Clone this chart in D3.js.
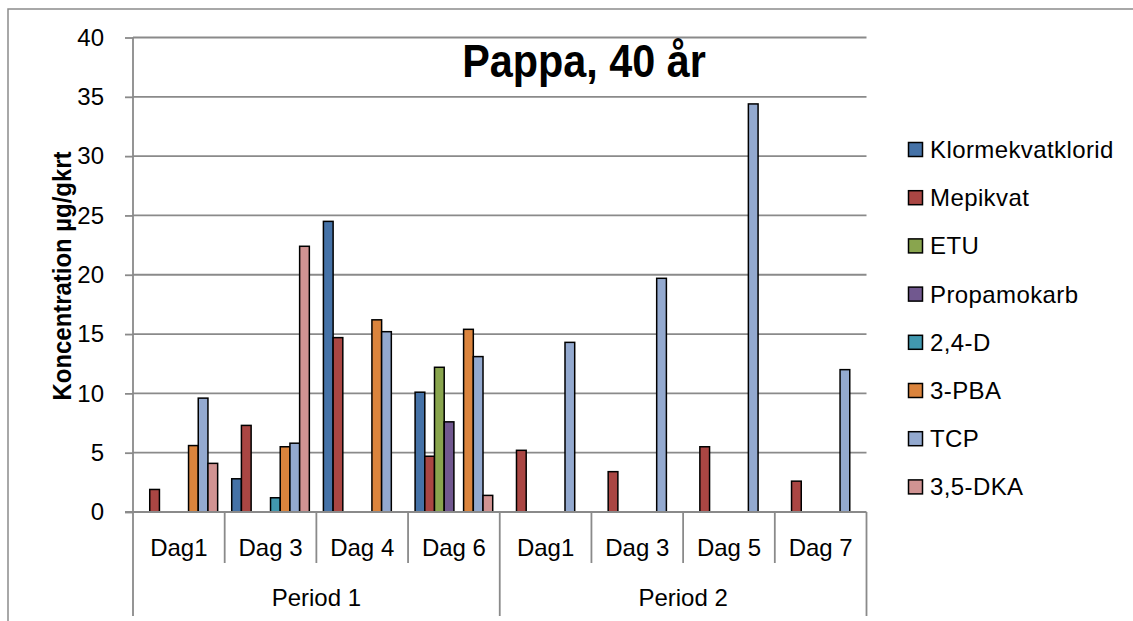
<!DOCTYPE html>
<html>
<head>
<meta charset="utf-8">
<script src="https://cdn.jsdelivr.net/npm/d3@7"></script>
<style>
  html, body { margin: 0; padding: 0; background: #fff; }
  svg { display: block; }
  text { font-family: "Liberation Sans", Arial, sans-serif; fill: #000; }
</style>
</head>
<body>
<svg id="chart" width="1133" height="621"></svg>
<script>
// Sampling days grouped by period
const periods = ["Period 1", "Period 2"];
const days = [
  ["Dag1", "Dag 3", "Dag 4", "Dag 6"],
  ["Dag1", "Dag 3", "Dag 5", "Dag 7"]
];

// Substances (legend order)
const seriesNames = ["Klormekvatklorid", "Mepikvat", "ETU", "Propamokarb", "2,4-D", "3-PBA", "TCP", "3,5-DKA"];
const seriesColors = ["#4572A7", "#AA4643", "#89A54E", "#71588F", "#4198AF", "#DB843D", "#93A9CF", "#D19392"];

// Concentrations, µg/g kreatinin; null = not detected
const klormekvatklorid = [null, 2.8, 24.5, 10.1, null, null, null, null];
const mepikvat         = [1.9, 7.3, 14.7, 4.7, 5.2, 3.4, 5.5, 2.6];
const etu              = [null, null, null, 12.2, null, null, null, null];
const propamokarb      = [null, null, null, 7.6, null, null, null, null];
const d24              = [null, 1.2, null, null, null, null, null, null];
const pba3             = [5.6, 5.5, 16.2, 15.4, null, null, null, null];
const tcp              = [9.6, 5.8, 15.2, 13.1, 14.3, 19.7, 34.4, 12.0];
const dka35            = [4.1, 22.4, null, 1.4, null, null, null, null];

const yTicks = [0, 5, 10, 15, 20, 25, 30, 35, 40];

const seriesValues = [klormekvatklorid, mepikvat, etu, propamokarb, d24, pba3, tcp, dka35];

// Flat list of categories with unique keys
const cats = [];
days.forEach((list, p) => list.forEach((d, i) => cats.push({ key: p + "-" + i, label: d, period: p })));

const svg = d3.select("#chart");
const plotLeft = 133, plotRight = 866.5, plotTop = 37.5, plotBottom = 512;
const gridColor = "#8a8a8a";

const x0 = d3.scaleBand().domain(cats.map(c => c.key)).range([plotLeft, plotRight]).padding(0);
const x1 = d3.scaleBand().domain(seriesNames).range([0, x0.bandwidth()]).paddingInner(0).paddingOuter(0.725);
const y = d3.scaleLinear().domain([0, 40]).range([plotBottom, plotTop]);

// Chart frame (left and top edges)
svg.append("path")
  .attr("d", "M8,621 L8,9 L1133,9")
  .attr("fill", "none").attr("stroke", "#8c8c8c").attr("stroke-width", 1.5);

// Horizontal gridlines
svg.append("g").selectAll("line").data(yTicks.filter(t => t > 0)).join("line")
  .attr("x1", plotLeft).attr("x2", plotRight)
  .attr("y1", d => y(d)).attr("y2", d => y(d))
  .attr("stroke", gridColor).attr("stroke-width", 1.8);

// Y axis
const yAxis = d3.axisLeft(y).tickValues(yTicks).tickSize(8).tickPadding(21).tickFormat(d3.format("d"));
const gy = svg.append("g").attr("transform", `translate(${plotLeft},0)`).call(yAxis);
gy.select(".domain").remove();
gy.selectAll(".tick line").attr("stroke", gridColor).attr("stroke-width", 1.8);
gy.selectAll(".tick text").attr("font-size", 24).attr("font-family", "Liberation Sans, Arial, sans-serif").attr("fill", "#000");

// Vertical axis line, extending through the category area
svg.append("line").attr("x1", plotLeft).attr("x2", plotLeft).attr("y1", plotTop).attr("y2", 616)
  .attr("stroke", gridColor).attr("stroke-width", 1.8);

// Bars
const groups = svg.append("g").selectAll("g").data(cats).join("g")
  .attr("transform", c => `translate(${x0(c.key)},0)`);
groups.selectAll("rect")
  .data((c, ci) => seriesNames.map((s, si) => ({ s, si, v: seriesValues[si][ci] })).filter(d => d.v != null))
  .join("rect")
  .attr("x", d => x1(d.s))
  .attr("width", x1.bandwidth())
  .attr("y", d => y(d.v))
  .attr("height", d => y(0) - y(d.v))
  .attr("fill", d => seriesColors[d.si])
  .attr("stroke", "#000").attr("stroke-width", 1.5);

// Category axis line
svg.append("line").attr("x1", plotLeft - 8).attr("x2", plotRight).attr("y1", plotBottom).attr("y2", plotBottom)
  .attr("stroke", gridColor).attr("stroke-width", 1.8);

// Day separators
const dayEdges = cats.map(c => x0(c.key)).concat([plotRight]);
const periodEdges = [0, 4, 8].map(i => dayEdges[i]);
svg.append("g").selectAll("line").data(dayEdges.filter((e, i) => i % 4 !== 0)).join("line")
  .attr("x1", d => d).attr("x2", d => d).attr("y1", plotBottom).attr("y2", 563)
  .attr("stroke", gridColor).attr("stroke-width", 1.8);
// Period separators
svg.append("g").selectAll("line").data(periodEdges.slice(1)).join("line")
  .attr("x1", d => d).attr("x2", d => d).attr("y1", plotBottom).attr("y2", 616)
  .attr("stroke", gridColor).attr("stroke-width", 1.8);

// Day labels
svg.append("g").selectAll("text").data(cats).join("text")
  .attr("x", c => x0(c.key) + x0.bandwidth() / 2).attr("y", 556)
  .attr("text-anchor", "middle").attr("font-size", 24)
  .text(c => c.label);

// Period labels
svg.append("g").selectAll("text").data(periods).join("text")
  .attr("x", (p, i) => (periodEdges[i] + periodEdges[i + 1]) / 2).attr("y", 606)
  .attr("text-anchor", "middle").attr("font-size", 24)
  .text(p => p);

// Title (condensed bold)
svg.append("text").attr("transform", "translate(584,77) scale(0.88,1)").attr("text-anchor", "middle")
  .attr("font-size", 47).attr("font-weight", "bold")
  .text("Pappa, 40 år");

// Y axis title (condensed bold)
svg.append("text").attr("transform", "translate(71,276) rotate(-90) scale(0.92,1)")
  .attr("text-anchor", "middle").attr("font-size", 26).attr("font-weight", "bold")
  .text("Koncentration µg/gkrt");

// Legend
const legend = svg.append("g").selectAll("g").data(seriesNames).join("g")
  .attr("transform", (s, i) => `translate(908,${149.5 + i * 48.2})`);
legend.append("rect").attr("x", 0.5).attr("y", -7).attr("width", 14).attr("height", 14)
  .attr("fill", (s, i) => seriesColors[i]).attr("stroke", "#000").attr("stroke-width", 1.5);
legend.append("text").attr("x", 22).attr("y", 8.5).attr("font-size", 24).attr("letter-spacing", 0.4).text(s => s);
</script>
</body>
</html>
